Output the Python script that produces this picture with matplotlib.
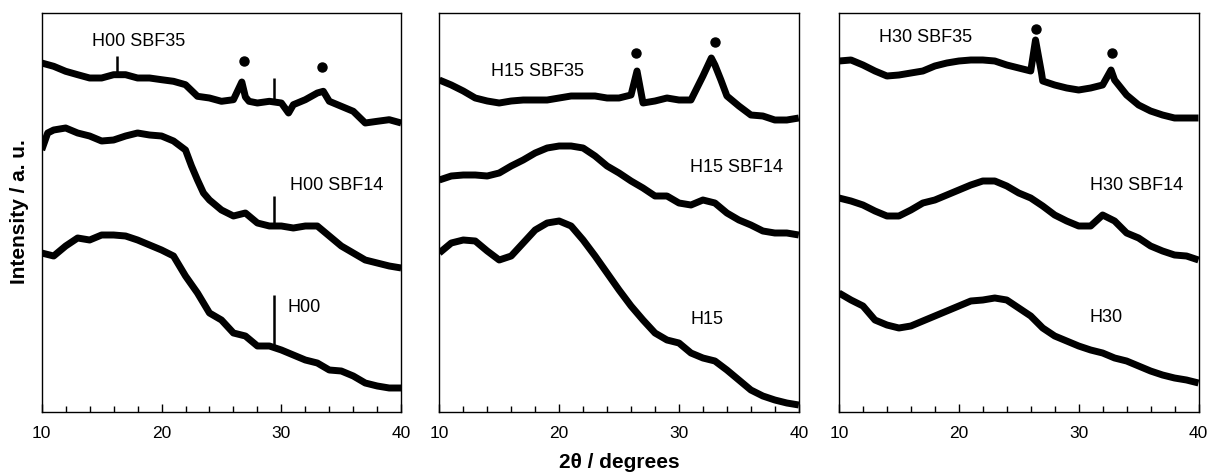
import matplotlib
matplotlib.use("Agg")
import matplotlib.pyplot as plt
from matplotlib.ticker import MultipleLocator

plt.rcParams['font.family'] = ['Liberation Sans', 'DejaVu Sans']

# ---------------- data (arbitrary units) ----------------
angles = list(range(10, 41))  # 2-theta grid, degrees

# Panel H00
H00_SBF35 = [349, 345.7, 340.7, 337.3, 334, 334, 337.3, 337.3, 334, 334, 332.3, 330.7,
             327.3, 315.7, 314, 310.7, 312.3, 315, 309, 310.7, 309, 307.3, 312.3, 319,
             310.7, 305.7, 300.7, 289, 290.7, 292.3, 289]
H00_SBF35_x_extra = [26.7, 27.3, 30.6, 33.5]
H00_SBF35_y_extra = [330, 310.7, 299, 320.7]
H00_SBF35_spike_x = [16.3, 29.4]
H00_SBF35_spike_lo = [337, 310]
H00_SBF35_spike_hi = [356, 334]

H00_SBF14 = [262, 282, 284, 279, 276, 271, 272, 276, 279, 277, 276, 271, 262, 232,
             212, 202, 196, 199, 189, 186, 186, 184, 186, 186, 176, 166, 159, 152,
             149, 146, 144]
H00_SBF14_x_extra = [10.5, 22.5, 23.5]
H00_SBF14_y_extra = [279, 246, 219]
H00_SBF14_spike_x = [29.4]
H00_SBF14_spike_lo = [186]
H00_SBF14_spike_hi = [216]

H00 = [159, 156, 166, 174, 172, 177, 177, 176, 172, 167, 162, 156, 136, 119, 99, 92,
       79, 76, 66, 66, 62, 57, 52, 49, 42, 41, 36, 29, 26, 24, 24]
H00_x_extra = []
H00_y_extra = []
H00_spike_x = [29.4]
H00_spike_lo = [66]
H00_spike_hi = [117]

# Panel H15
H15_SBF35 = [332, 327, 321, 314, 311, 309, 311, 312, 312, 312, 314, 316, 316, 316,
             314, 314, 317, 309, 311, 314, 312, 312, 336, 347, 316, 306, 297, 296,
             292, 292, 294]
H15_SBF35_x_extra = [26.5, 32.7, 33.5]
H15_SBF35_y_extra = [341, 354, 332]

H15_SBF14 = [232, 236, 237, 237, 236, 239, 246, 252, 259, 264, 266, 266, 264, 256,
             246, 239, 231, 224, 216, 216, 209, 207, 212, 209, 199, 192, 187, 181,
             179, 179, 177]
H15_SBF14_x_extra = []
H15_SBF14_y_extra = []

H15 = [159, 169, 172, 171, 161, 152, 156, 169, 182, 189, 191, 186, 172, 156, 139,
       122, 106, 92, 79, 72, 69, 59, 54, 51, 42, 32, 22, 16, 12, 9, 7]
H15_x_extra = []
H15_y_extra = []

# Panel H30
H30_SBF35 = [351, 352, 347, 341, 336, 337, 339, 341, 346, 349, 351, 352, 352, 351,
             347, 344, 341, 331, 327, 324, 322, 324, 327, 332, 317, 307, 301, 297,
             294, 294, 294]
H30_SBF35_x_extra = [26.4, 26.9, 32.7]
H30_SBF35_y_extra = [372, 339, 342]

H30_SBF14 = [214, 211, 207, 201, 196, 196, 202, 209, 212, 217, 222, 227, 231, 231,
             226, 219, 214, 206, 197, 191, 186, 186, 197, 191, 179, 174, 166, 161,
             157, 156, 152]
H30_SBF14_x_extra = []
H30_SBF14_y_extra = []

H30 = [119, 112, 106, 92, 87, 84, 86, 91, 96, 101, 106, 111, 112, 114, 112, 104, 96,
       84, 76, 71, 66, 62, 59, 54, 51, 46, 41, 37, 34, 32, 29]
H30_x_extra = []
H30_y_extra = []

# crystalline peak markers (2-theta, height)
H00_dots_x = [26.86, 33.4]
H00_dots_y = [351.3, 344.7]
H15_dots_x = [26.44, 32.97]
H15_dots_y = [359, 369.7]
H30_dots_x = [26.46, 32.79]
H30_dots_y = [383.3, 359]

# curve labels
H00_labels = ["H00 SBF35", "H00 SBF14", "H00"]
H00_label_x = [18.1, 34.6, 31.9]
H00_label_y = [370, 226, 104]
H15_labels = ["H15 SBF35", "H15 SBF14", "H15"]
H15_label_x = [18.2, 34.8, 32.3]
H15_label_y = [341, 245, 92]
H30_labels = ["H30 SBF35", "H30 SBF14", "H30"]
H30_label_x = [17.2, 34.8, 32.3]
H30_label_y = [374, 227, 95]

x_ticks = [10, 20, 30, 40]

no_spikes = ([], [], [])
panels = [
    ([(H00_SBF35, H00_SBF35_x_extra, H00_SBF35_y_extra,
       (H00_SBF35_spike_x, H00_SBF35_spike_lo, H00_SBF35_spike_hi)),
      (H00_SBF14, H00_SBF14_x_extra, H00_SBF14_y_extra,
       (H00_SBF14_spike_x, H00_SBF14_spike_lo, H00_SBF14_spike_hi)),
      (H00, H00_x_extra, H00_y_extra, (H00_spike_x, H00_spike_lo, H00_spike_hi))],
     H00_dots_x, H00_dots_y, H00_labels, H00_label_x, H00_label_y),
    ([(H15_SBF35, H15_SBF35_x_extra, H15_SBF35_y_extra, no_spikes),
      (H15_SBF14, H15_SBF14_x_extra, H15_SBF14_y_extra, no_spikes),
      (H15, H15_x_extra, H15_y_extra, no_spikes)],
     H15_dots_x, H15_dots_y, H15_labels, H15_label_x, H15_label_y),
    ([(H30_SBF35, H30_SBF35_x_extra, H30_SBF35_y_extra, no_spikes),
      (H30_SBF14, H30_SBF14_x_extra, H30_SBF14_y_extra, no_spikes),
      (H30, H30_x_extra, H30_y_extra, no_spikes)],
     H30_dots_x, H30_dots_y, H30_labels, H30_label_x, H30_label_y),
]

# ---------------- figure ----------------
W, H = 1210, 474
fig = plt.figure(figsize=(W / 100, H / 100), dpi=100)

lefts = [41.7, 439.3, 839.0]
ax_w = 359.5
ax_top, ax_bot = 13, 412

for i, (curves, dx, dy, labs, lx, ly) in enumerate(panels):
    ax = fig.add_axes([lefts[i] / W, (H - ax_bot) / H, ax_w / W, (ax_bot - ax_top) / H])
    for base, xe, ye, (sx, slo, shi) in curves:
        pts = sorted(list(zip(angles, base)) + list(zip(xe, ye)))
        xs = [p[0] for p in pts]
        ys = [p[1] for p in pts]
        ax.plot(xs, ys, color='black', lw=5.0, solid_joinstyle='round',
                solid_capstyle='butt')
        if sx:
            ax.vlines(sx, slo, shi, color='black', lw=1.8)
    ax.plot(dx, dy, 'o', color='black', ms=6.5, ls='none')
    for t, x, y in zip(labs, lx, ly):
        ax.text(x, y, t, fontsize=13, ha='center', va='center', color='black')
    ax.set_xlim(10, 40)
    ax.set_ylim(0, 399)
    ax.set_xticks(x_ticks)
    ax.xaxis.set_minor_locator(MultipleLocator(2))
    ax.tick_params(axis='x', which='major', direction='in', length=6, width=1,
                   labelsize=12.5, pad=10, top=False)
    ax.tick_params(axis='x', which='minor', direction='in', length=4, width=1, top=False)
    ax.set_yticks([])
    for s in ax.spines.values():
        s.set_linewidth(1.0)

fig.text(20 / W, 1 - 212 / H, "Intensity / a. u.", rotation=90, fontsize=15,
         fontweight='bold', ha='center', va='center')
fig.text(619 / W, 1 - 463 / H, "2θ / degrees", fontsize=15, fontweight='bold',
         ha='center', va='center')

fig.savefig("out.png", dpi=100)
